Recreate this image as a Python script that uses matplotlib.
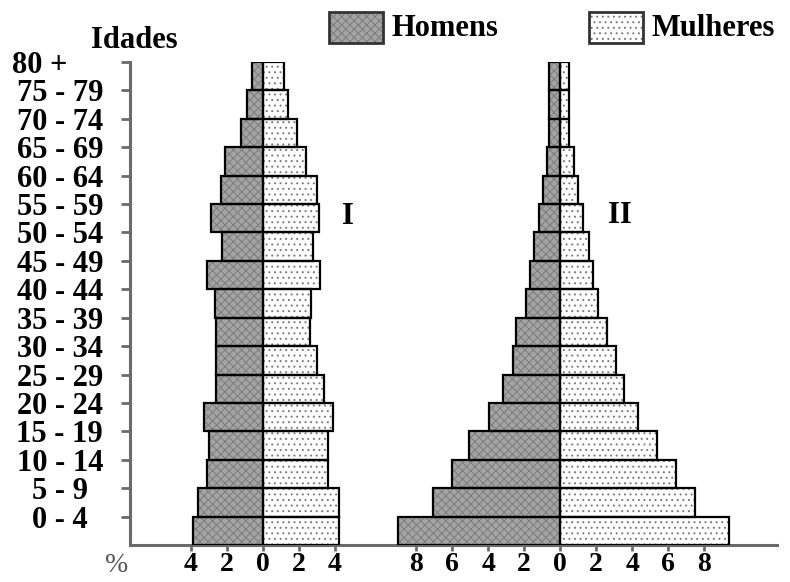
import matplotlib

matplotlib.use("Agg")
import matplotlib.pyplot as plt
from matplotlib.patches import Rectangle
from matplotlib.transforms import ScaledTranslation
import numpy as np

# age groups, bottom to top
ages = ["0 - 4", "5 - 9", "10 - 14", "15 - 19", "20 - 24", "25 - 29", "30 - 34",
        "35 - 39", "40 - 44", "45 - 49", "50 - 54", "55 - 59", "60 - 64",
        "65 - 69", "70 - 74", "75 - 79", "80 +"]

# pyramid I (%)
men_1 = [3.9, 3.6, 3.1, 3.0, 3.3, 2.6, 2.6, 2.6, 2.65, 3.1, 2.3, 2.9, 2.35,
         2.1, 1.25, 0.9, 0.6]
women_1 = [4.2, 4.2, 3.6, 3.6, 3.9, 3.4, 3.0, 2.6, 2.65, 3.15, 2.8, 3.1, 3.0,
           2.4, 1.9, 1.4, 1.15]

# pyramid II (%)
men_2 = [9.0, 7.05, 6.0, 5.05, 3.95, 3.15, 2.6, 2.45, 1.9, 1.65, 1.45, 1.15,
         0.95, 0.75, 0.6, 0.6, 0.6]
women_2 = [9.4, 7.5, 6.45, 5.4, 4.35, 3.55, 3.1, 2.6, 2.1, 1.85, 1.6, 1.3,
           1.0, 0.75, 0.5, 0.5, 0.5]

ticks_1 = [-4, -2, 0, 2, 4]
ticks_2 = [-8, -6, -4, -2, 0, 2, 4, 6, 8]
OFFSET_2 = 16.5  # horizontal position of pyramid II's zero line

SERIF = ["Liberation Serif", "DejaVu Serif"]
FS = 22
MEN_FACE, MEN_HATCH = "#a4a4a4", "#7c7c7c"
WOMEN_FACE, WOMEN_HATCH = "#ffffff", "#7a7a7a"
AXIS_GREY = "#6a6a6a"

plt.rcParams["hatch.linewidth"] = 0.7

fig = plt.figure(figsize=(7.9, 5.82), dpi=100)
ax = fig.add_axes([130 / 790, 37 / 582, 647 / 790, 483 / 582])

y = np.arange(len(ages))


def draw_pyramid(x0, men, women):
    men = np.asarray(men)
    women = np.asarray(women)
    # textured fill
    ax.barh(y, -men, left=x0, height=1.0, align="edge", color=MEN_FACE,
            edgecolor=MEN_HATCH, hatch="xxxx", linewidth=0, zorder=2)
    ax.barh(y, women, left=x0, height=1.0, align="edge", color=WOMEN_FACE,
            edgecolor=WOMEN_HATCH, hatch="...", linewidth=0, zorder=2)
    # black outlines
    ax.barh(y, -men, left=x0, height=1.0, align="edge", fill=False,
            edgecolor="black", linewidth=1.6, zorder=3)
    ax.barh(y, women, left=x0, height=1.0, align="edge", fill=False,
            edgecolor="black", linewidth=1.6, zorder=3)


draw_pyramid(0, men_1, women_1)
draw_pyramid(OFFSET_2, men_2, women_2)

ax.set_xlim(-7.39, 28.55)
ax.set_ylim(0, len(ages))

for s in ["top", "right"]:
    ax.spines[s].set_visible(False)
for s in ["left", "bottom"]:
    ax.spines[s].set_color(AXIS_GREY)
    ax.spines[s].set_linewidth(2.2)

xt = ticks_1 + [OFFSET_2 + t for t in ticks_2]
xl = [str(abs(t)) for t in ticks_1 + ticks_2]
ax.set_xticks(xt, xl)
ax.set_yticks(y + 1, ages)
ax.tick_params(axis="x", length=4, width=2, color=AXIS_GREY, pad=1)
ax.tick_params(axis="y", length=6.5, width=2, color=AXIS_GREY, pad=44)
for lab in ax.get_xticklabels():
    lab.set_fontfamily(SERIF)
    lab.set_fontweight("bold")
    lab.set_fontsize(20)
for lab in ax.get_yticklabels():
    lab.set_fontfamily(SERIF)
    lab.set_fontweight("bold")
    lab.set_fontsize(FS)
    lab.set_horizontalalignment("center")
top_lab = ax.get_yticklabels()[-1]
top_lab.set_transform(top_lab.get_transform()
                      + ScaledTranslation(-0.2, 0, fig.dpi_scale_trans))

ax.text(4.7, 11.55, "I", fontfamily=SERIF, fontweight="bold", fontsize=FS,
        ha="center", va="center")
ax.text(19.8, 11.6, "II", fontfamily=SERIF, fontweight="bold", fontsize=FS,
        ha="center", va="center")

fig.text(134 / 790, 1 - 40 / 582, "Idades", fontfamily=SERIF, fontweight="bold",
         fontsize=FS, ha="center", va="center")
fig.text(117 / 790, 1 - 565 / 582, "%", fontfamily=SERIF, fontsize=20,
         color="#555555", ha="center", va="center")

# legend
for px, face, hcol, hatch, label in [(329, MEN_FACE, MEN_HATCH, "xxxx", "Homens"),
                                     (589, WOMEN_FACE, WOMEN_HATCH, "...", "Mulheres")]:
    fig.patches.append(Rectangle((px / 790, 1 - 43 / 582), 54 / 790, 31 / 582,
                                 transform=fig.transFigure, facecolor=face,
                                 edgecolor=hcol, hatch=hatch, linewidth=0))
    fig.patches.append(Rectangle((px / 790, 1 - 43 / 582), 54 / 790, 31 / 582,
                                 transform=fig.transFigure, fill=False,
                                 edgecolor="#333333", linewidth=2))
    fig.text((px + 62) / 790, 1 - 28 / 582, label, fontfamily=SERIF,
             fontweight="bold", fontsize=FS, ha="left", va="center")

fig.savefig("out.png", dpi=100)
